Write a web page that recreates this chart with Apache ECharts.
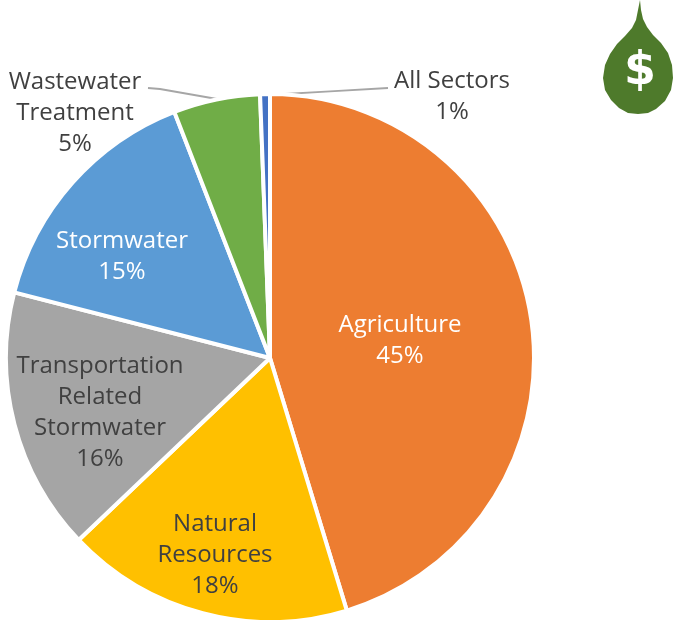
<!DOCTYPE html>
<html>
<head>
<meta charset="utf-8">
<style>html,body{margin:0;padding:0;background:#fff}#c{width:677px;height:620px}</style>
<script src="https://cdn.jsdelivr.net/npm/echarts@6/dist/echarts.min.js"></script>
</head>
<body>
<div id="c"></div>
<script>
const categories = ['Agriculture','Natural\nResources','Transportation\nRelated\nStormwater','Stormwater','Wastewater\nTreatment','All Sectors'];
const values = [45.3,17.6,16.1,15.1,5.3,0.6];
const shown = ['45%','18%','16%','15%','5%','1%'];
const colors = ['#ED7D31','#FFC000','#A5A5A5','#5B9BD5','#70AD47','#4472C4'];
const textColors = ['#ffffff','#404040','#404040','#ffffff','#404040','#404040'];
const labelSpots = [[400,341],[215,555],[100,413],[122,257],[75,113],[452,97]];
const leaderLines = {
  4: [[148,88],[160,89],[217,99]],
  5: [[388,88],[330,91.3],[267,95]]
};
const dropOutline = [[640,0],[641,10],[643,19],[647,27],[653,35],[661,43],[668,53],[672,65],[673,78],[671,90],[665,101],[656,109],[648,113],[638,114],[628,113],[619,108],[611,100],[605,90],[603,78],[605,65],[610,54],[617,44],[625,36],[632,28],[636,20],[638,10]];
const chart = echarts.init(document.getElementById('c'), null, {renderer:'canvas'});
chart.setOption({
  animation:false,
  backgroundColor:'#fff',
  graphic:[
    {type:'polygon',shape:{points:dropOutline},style:{fill:'#4E7A2B'}},
    {type:'text',x:640,y:72,style:{text:'$',fill:'#fff',font:'bold 46px "DejaVu Sans"',align:'center',verticalAlign:'middle'}}
  ],
  series:[{
    type:'pie',
    center:[270,358],
    radius:[0,264],
    startAngle:90,
    clockwise:true,
    avoidLabelOverlap:false,
    itemStyle:{borderColor:'#fff',borderWidth:4},
    label:{show:true,position:'outside',fontFamily:'Open Sans',fontSize:24,lineHeight:31,align:'center',verticalAlign:'middle'},
    labelLine:{show:true,lineStyle:{color:'#A6A6A6',width:1.8}},
    labelLayout:function(p){
      const i=p.dataIndex;
      const o={x:labelSpots[i][0],y:labelSpots[i][1],align:'center',verticalAlign:'middle'};
      if(leaderLines[i]) o.labelLinePoints=leaderLines[i];
      return o;
    },
    data:categories.map((n,i)=>({
      name:n,value:values[i],
      itemStyle:{color:colors[i]},
      label:{color:textColors[i],formatter:n+'\n'+shown[i]},
      labelLine:{show:!!leaderLines[i]}
    }))
  }]
});
</script>
</body>
</html>
